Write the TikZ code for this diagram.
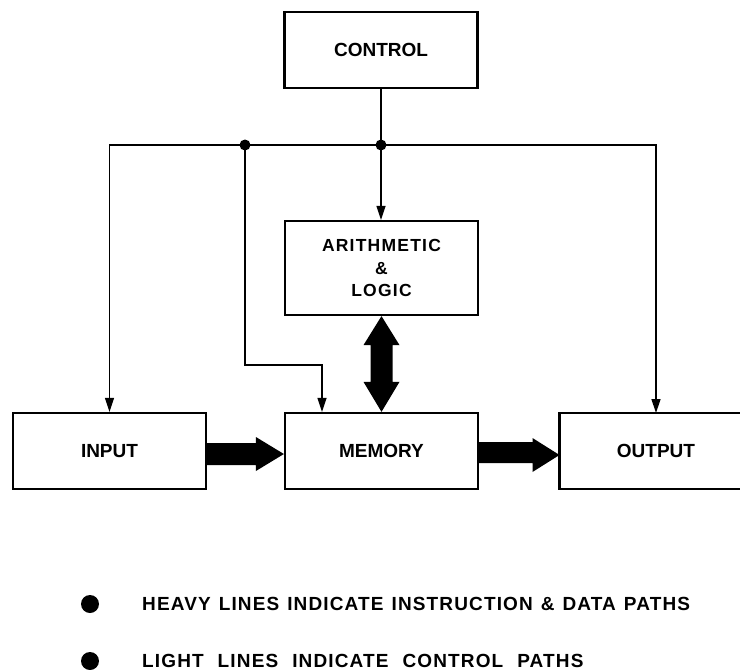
\documentclass[tikz,border=0pt]{standalone}
\usepackage{fontspec}
\setmainfont{Liberation Sans}
\usetikzlibrary{arrows.meta,calc}
\begin{document}
\begin{tikzpicture}[x=1pt,y=-1pt,
  box/.style={draw,line width=2.2pt,minimum width=193pt,minimum height=76pt,inner sep=0pt,
    font=\bfseries\fontsize{19}{19}\selectfont},
  alufont/.style={font={\bfseries\fontsize{17.5}{22.5}\selectfont\addfontfeatures{LetterSpace=7}}},
  ctl/.style={line width=1.4pt},
  ctlarr/.style={ctl,-{Triangle[length=14pt,width=9pt]}},
  jdot/.style={circle,fill,inner sep=0pt,minimum size=11pt},
  ldot/.style={circle,fill,inner sep=0pt,minimum size=18pt},
  legend/.style={anchor=west,inner sep=0pt,font={\bfseries\fontsize{19}{19}\selectfont\addfontfeatures{LetterSpace=6}}}]
\useasboundingbox (0,0) rectangle (740,670);

% blocks
\node[box] (control) at (381,50) {CONTROL};
\node[box,minimum height=94pt,align=center,alufont] (alu) at (381.5,268) {ARITHMETIC\\\&\\LOGIC};
\node[box] (input) at (109.5,451) {INPUT};
\node[box] (memory) at (381.5,451) {MEMORY};
\node[box,draw=none,outer sep=0pt] (output) at (656,451) {OUTPUT};
\draw[line width=2.2pt] ($(output.north west)+(184,0)$) -- (output.north west) -- (output.south west) -- ($(output.south west)+(184,0)$);

% control paths
\coordinate (j1) at (control.south |- 0,145);
\coordinate (j2) at (245,145);
\coordinate (m) at (322,365);
\draw[ctl] (control.south) -- (j1);
\draw[ctl] (j2) -- (j1);
\draw[ctlarr] (j1) -- (j1 |- alu.north);
\draw[ctlarr] (j1) -| (output.north);
\draw[ctlarr] (j2) -| (input.north);
\draw[ctlarr] (j2) |- (m) -- (m |- memory.north);
\node[jdot] (d1) at (j1) {};
\node[jdot] (d2) at (j2) {};

% heavy data paths
\fill let \p1=(input.east), \p2=(memory.west) in
  (\x1,\y1-14pt) -- (\x2-28pt,\y1-14pt) -- (\x2-28pt,\y1-20pt) -- (\x2,\y1-3pt)
  -- (\x2-28pt,\y1+14pt) -- (\x2-28pt,\y1+8pt) -- (\x1,\y1+8pt) -- cycle;
\fill let \p1=(memory.east), \p2=(output.west) in
  (\x1,\y1-12pt) -- (\x2-27pt,\y1-12pt) -- (\x2-27pt,\y1-21pt) -- (\x2,\y1-4pt)
  -- (\x2-27pt,\y1+13pt) -- (\x2-27pt,\y1+9pt) -- (\x1,\y1+9pt) -- cycle;
\fill let \p1=(alu.south), \p2=(memory.north) in
  (\x1,\y1) -- (\x1+18pt,\y1-29pt) -- (\x1+11pt,\y1-29pt) -- (\x1+11pt,\y2+30pt)
  -- (\x1+18pt,\y2+30pt) -- (\x1,\y2) -- (\x1-18pt,\y2+30pt) -- (\x1-11pt,\y2+30pt)
  -- (\x1-11pt,\y1-29pt) -- (\x1-18pt,\y1-29pt) -- cycle;

% legend
\node[ldot] (l1) at (90,604) {};
\node[ldot] (l2) at (90,661) {};
\node[legend] (t1) at (142,604) {\spaceskip=8pt\relax HEAVY LINES INDICATE INSTRUCTION \& DATA PATHS};
\node[legend] (t2) at (142,661) {\spaceskip=14pt\relax LIGHT LINES INDICATE CONTROL PATHS};
\end{tikzpicture}
\end{document}
